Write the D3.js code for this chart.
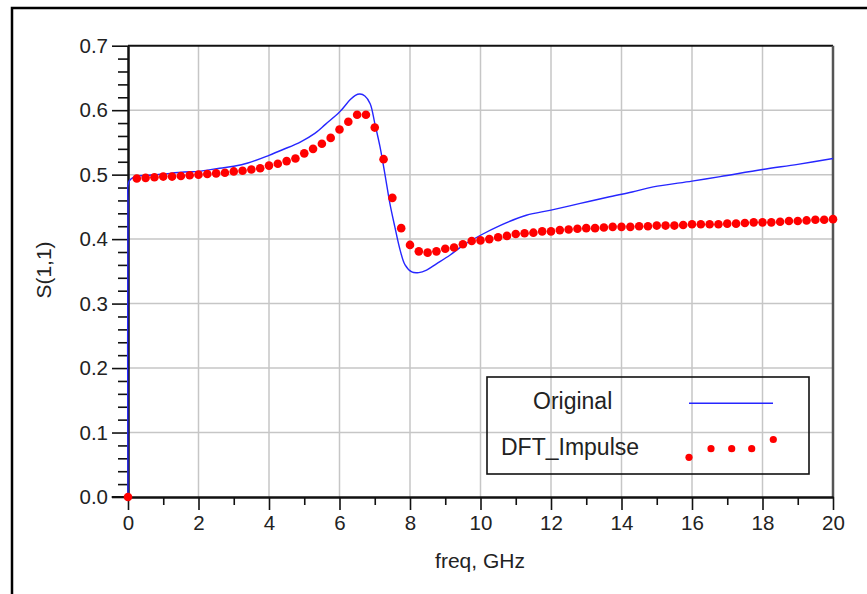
<!DOCTYPE html>
<html>
<head>
<meta charset="utf-8">
<script src="https://cdn.jsdelivr.net/npm/d3@7"></script>
<style>
  body { margin: 0; background: #fff; }
  text { font-family: Arial, "Liberation Sans", sans-serif; fill: #222; }
</style>
</head>
<body>
<div id="chart"></div>
<script>
// "Original" trace
const origFreq = [0, 0, 0.03, 0.2, 0.6, 1.0, 1.6, 2.0, 2.6, 3.0, 3.4, 4.0, 4.4, 4.9, 5.3, 5.6,
  6.0, 6.3, 6.45, 6.58, 6.72, 6.87, 7.0, 7.15, 7.3, 7.43, 7.57, 7.72, 7.86, 8.05, 8.25, 8.47,
  8.76, 9.13, 9.5, 10.0, 10.55, 11.3, 12.0, 12.8, 13.6, 14.3, 14.9, 16.0, 16.8, 18.0, 19.0, 20.0];
const origS11 = [0, 0.45, 0.49, 0.497, 0.499, 0.501, 0.504, 0.505, 0.510, 0.513, 0.518, 0.530,
  0.539, 0.551, 0.564, 0.578, 0.597, 0.616, 0.623, 0.625, 0.622, 0.610, 0.580, 0.543, 0.497,
  0.455, 0.419, 0.383, 0.360, 0.349, 0.348, 0.352, 0.362, 0.375, 0.390, 0.406, 0.421, 0.437,
  0.445, 0.455, 0.465, 0.473, 0.481, 0.490, 0.497, 0.508, 0.516, 0.525];

// "DFT_Impulse" samples (every 0.25 GHz)
const dftFreq = [0, 0.25, 0.5, 0.75, 1, 1.25, 1.5, 1.75, 2, 2.25, 2.5, 2.75, 3, 3.25, 3.5, 3.75,
  4, 4.25, 4.5, 4.75, 5, 5.25, 5.5, 5.75, 6, 6.25, 6.5, 6.75, 7, 7.25, 7.5, 7.75, 8, 8.25, 8.5,
  8.75, 9, 9.25, 9.5, 9.75, 10, 10.25, 10.5, 10.75, 11, 11.25, 11.5, 11.75, 12, 12.25, 12.5,
  12.75, 13, 13.25, 13.5, 13.75, 14, 14.25, 14.5, 14.75, 15, 15.25, 15.5, 15.75, 16, 16.25,
  16.5, 16.75, 17, 17.25, 17.5, 17.75, 18, 18.25, 18.5, 18.75, 19, 19.25, 19.5, 19.75, 20];
const dftS11 = [0.0, 0.494, 0.495, 0.496, 0.497, 0.497, 0.498, 0.499, 0.500, 0.501, 0.502,
  0.503, 0.505, 0.506, 0.508, 0.510, 0.514, 0.517, 0.521, 0.525, 0.533, 0.540, 0.548, 0.557,
  0.570, 0.582, 0.593, 0.593, 0.573, 0.524, 0.464, 0.417, 0.391, 0.381, 0.379, 0.381, 0.385,
  0.387, 0.392, 0.397, 0.398, 0.400, 0.403, 0.405, 0.408, 0.409, 0.410, 0.412, 0.412, 0.414,
  0.415, 0.416, 0.417, 0.417, 0.418, 0.419, 0.419, 0.419, 0.420, 0.420, 0.421, 0.421, 0.421,
  0.422, 0.423, 0.423, 0.423, 0.423, 0.424, 0.424, 0.425, 0.426, 0.426, 0.426, 0.427, 0.428,
  0.428, 0.429, 0.430, 0.430, 0.431];

const xMajor = [0, 2, 4, 6, 8, 10, 12, 14, 16, 18, 20];
const xMinor = [1, 3, 5, 7, 9, 11, 13, 15, 17, 19];
const yMajor = [0, 0.1, 0.2, 0.3, 0.4, 0.5, 0.6, 0.7];
const yMinor = [0.02, 0.04, 0.06, 0.08, 0.12, 0.14, 0.16, 0.18, 0.22, 0.24, 0.26, 0.28,
  0.32, 0.34, 0.36, 0.38, 0.42, 0.44, 0.46, 0.48, 0.52, 0.54, 0.56, 0.58, 0.62, 0.64, 0.66, 0.68];
const seriesNames = ["Original", "DFT_Impulse"];

const W = 867, H = 594;
const svg = d3.select("#chart").append("svg").attr("width", W).attr("height", H);

// outer frame
svg.append("path").attr("d", "M12,594 V8 H867").attr("fill", "none")
  .attr("stroke", "#000").attr("stroke-width", 2.5);

const x = d3.scaleLinear().domain([0, 20]).range([128, 833]);
const y = d3.scaleLinear().domain([0, 0.7]).range([497, 45.7]);

// grid
svg.append("g").selectAll("line").data(xMajor.slice(1, -1)).join("line")
  .attr("x1", d => x(d)).attr("x2", d => x(d)).attr("y1", y(0.7)).attr("y2", y(0))
  .attr("stroke", "#c6c6c6").attr("stroke-width", 1.5);
svg.append("g").selectAll("line").data(yMajor.slice(1, -1)).join("line")
  .attr("x1", x(0)).attr("x2", x(20)).attr("y1", d => y(d)).attr("y2", d => y(d))
  .attr("stroke", "#c6c6c6").attr("stroke-width", 1.5);

// frame top/right
svg.append("line").attr("x1", x(0)).attr("x2", x(20)).attr("y1", y(0.7)).attr("y2", y(0.7))
  .attr("stroke", "#111").attr("stroke-width", 2);
svg.append("line").attr("x1", x(20)).attr("x2", x(20)).attr("y1", y(0.7)).attr("y2", y(0))
  .attr("stroke", "#555").attr("stroke-width", 2.5);

// axes
function styleAxis(g) {
  g.selectAll("line").attr("stroke", "#111").attr("stroke-width", 1.6);
  g.select(".domain").attr("stroke", "#111").attr("stroke-width", 2);
  g.selectAll("text").attr("font-size", 20.5).attr("fill", "#222")
    .attr("font-family", "Arial, 'Liberation Sans', sans-serif");
}
svg.append("g").attr("transform", `translate(${x(0)},0)`)
  .call(d3.axisLeft(y).tickValues(yMinor).tickSize(10).tickFormat("").tickSizeOuter(0))
  .call(styleAxis);
svg.append("g").attr("transform", `translate(${x(0)},0)`)
  .call(d3.axisLeft(y).tickValues(yMajor).tickSize(16).tickPadding(4)
    .tickFormat(d3.format(".1f")).tickSizeOuter(0))
  .call(styleAxis);
svg.append("g").attr("transform", `translate(0,${y(0)})`)
  .call(d3.axisBottom(x).tickValues(xMinor).tickSize(8).tickFormat("").tickSizeOuter(0))
  .call(styleAxis);
svg.append("g").attr("transform", `translate(0,${y(0)})`)
  .call(d3.axisBottom(x).tickValues(xMajor).tickSize(13).tickPadding(5).tickSizeOuter(0))
  .call(styleAxis);
svg.append("line").attr("x1", 111.7).attr("x2", x(0)).attr("y1", y(0)).attr("y2", y(0))
  .attr("stroke", "#111").attr("stroke-width", 2);

// axis titles
svg.append("text").attr("x", 480).attr("y", 568).attr("text-anchor", "middle")
  .attr("font-size", 21).text("freq, GHz");
svg.append("text").attr("transform", "translate(51,270) rotate(-90)")
  .attr("text-anchor", "middle").attr("font-size", 21).text("S(1,1)");

// series
const origData = origFreq.map((f, i) => ({ f, v: origS11[i] }));
const dftData = dftFreq.map((f, i) => ({ f, v: dftS11[i] }));

svg.append("path").datum(origData)
  .attr("fill", "none").attr("stroke", "#2626ff").attr("stroke-width", 1.4)
  .attr("d", d3.line().curve(d3.curveCatmullRom.alpha(0.5))
    .x(d => x(d.f)).y(d => y(d.v)));

svg.append("g").selectAll("circle").data(dftData).join("circle")
  .attr("cx", d => x(d.f)).attr("cy", d => y(d.v)).attr("r", 4.3)
  .attr("fill", "#ff0000");

// legend
const lg = svg.append("g");
lg.append("rect").attr("x", 487).attr("y", 377).attr("width", 322).attr("height", 97)
  .attr("fill", "none").attr("stroke", "#111").attr("stroke-width", 1.6);
lg.append("text").attr("x", 533).attr("y", 409).attr("font-size", 23).text(seriesNames[0]);
lg.append("text").attr("x", 501).attr("y", 455).attr("font-size", 23).text(seriesNames[1]);
lg.append("line").attr("x1", 689).attr("x2", 773).attr("y1", 403.3).attr("y2", 403.3)
  .attr("stroke", "#2626ff").attr("stroke-width", 1.4);
const legendDots = [[689, 457.3], [711, 448.7], [731.7, 448.7], [751.7, 448.7], [773.3, 439.5]];
lg.selectAll("circle").data(legendDots).join("circle")
  .attr("cx", d => d[0]).attr("cy", d => d[1]).attr("r", 3.6).attr("fill", "#ff0000");
</script>
</body>
</html>
